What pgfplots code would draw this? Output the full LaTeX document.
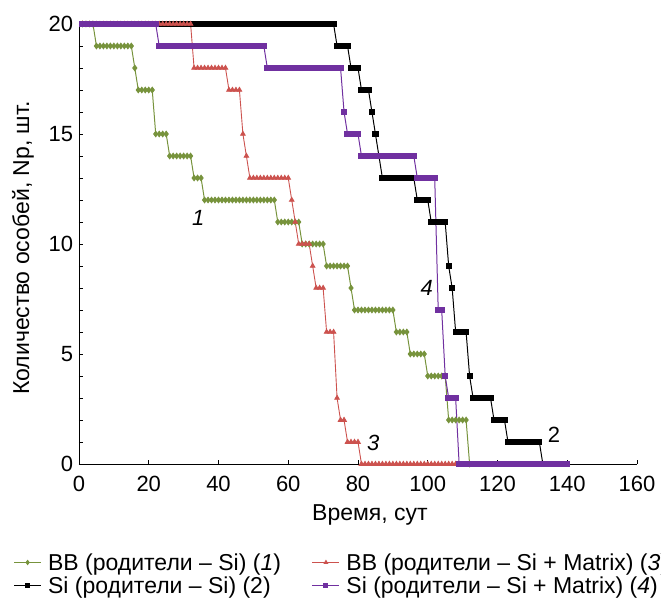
\documentclass[border=0pt]{standalone}
\usepackage{fontspec}
\setmainfont{Liberation Sans}
\usepackage{pgfplots}
\pgfplotsset{compat=1.18}

\definecolor{cg}{RGB}{119,147,60}
\definecolor{cr}{RGB}{204,82,78}
\definecolor{cp}{RGB}{112,48,160}

\newcommand{\fnt}{\fontsize{22bp}{26bp}\selectfont}
\newcommand{\lfnt}{\fontsize{23bp}{27bp}\selectfont}

\begin{document}
\begin{tikzpicture}
\begin{axis}[
  scale only axis,
  width=558bp, height=440bp,
  xmin=0, xmax=160, ymin=0, ymax=20,
  axis x line*=bottom, axis y line*=left,
  axis line style={line width=0.8pt},
  xtick={0,20,...,160}, ytick={0,5,...,20},
  minor y tick num=4,
  tick align=inside,
  major tick length=4bp, minor tick length=4bp,
  tick style={black, line width=0.8pt},
  tick label style={font=\fnt},
  xticklabel style={anchor=base, yshift=-27.7bp},
  yticklabel style={xshift=-2.4bp},
  /pgf/number format/assume math mode=true,
  xlabel={Время, сут},
  ylabel={Количество особей, Np, шт.},
  every axis x label/.style={at={(axis description cs:0.5215,-0.1295)}, anchor=base, font=\lfnt},
  every axis y label/.style={at={(axis description cs:-0.1004,0.491)}, rotate=90, anchor=center, font=\lfnt},
  clip=false,
  legend columns=2, transpose legend,
  legend style={at={(axis description cs:-0.1175,-0.2027)}, anchor=north west,
    draw=none, fill=none, font=\lfnt, inner sep=0pt, row sep=5bp,
    nodes={inner sep=0pt},
    /tikz/every odd column/.append style={column sep=6.5bp},
    /tikz/every even column/.append style={column sep=31bp}},
  legend cell align=left,
  legend image code/.code={\draw[mark repeat=2,mark phase=2,#1] plot coordinates {(0bp,0bp) (13.5bp,0bp) (27bp,0bp)};},
  legend image post style={mark size=2bp},
]
% (1) BB (parents - Si)
\addplot[cg, line width=1pt, mark=diamond*, mark size=2.7bp, mark options={fill=cg, draw=cg}] coordinates {
(1,20) (2,20) (3,20) (4,20)
(5,19) (6,19) (7,19) (8,19) (9,19) (10,19) (11,19) (12,19) (13,19) (14,19) (15,19)
(16,18)
(17,17) (18,17) (19,17) (20,17) (21,17)
(22,15) (23,15) (24,15) (25,15)
(26,14) (27,14) (28,14) (29,14) (30,14) (31,14) (32,14)
(33,13) (34,13) (35,13)
(36,12) (37,12) (38,12) (39,12) (40,12) (41,12) (42,12) (43,12) (44,12) (45,12) (46,12)
(47,12) (48,12) (49,12) (50,12) (51,12) (52,12) (53,12) (54,12) (55,12) (56,12)
(57,11) (58,11) (59,11) (60,11) (61,11) (62,11) (63,11)
(64,10) (65,10) (66,10) (67,10) (68,10) (69,10) (70,10)
(71,9) (72,9) (73,9) (74,9) (75,9) (76,9) (77,9)
(78,8)
(79,7) (80,7) (81,7) (82,7) (83,7) (84,7) (85,7) (86,7) (87,7) (88,7) (89,7) (90,7)
(91,6) (92,6) (93,6) (94,6)
(95,5) (96,5) (97,5) (98,5) (99,5)
(100,4) (101,4) (102,4) (103,4) (104,4) (105,4)
(106,2) (107,2) (108,2) (109,2) (110,2) (111,2)
(112,0)
};
\addlegendentry{BB (родители – Si) (\textit{1})}
% (2) Si (parents - Si)
\addplot[black, line width=1pt, mark=square*, mark size=2.6bp, mark options={fill=black}] coordinates {
(1,20) (2,20) (3,20) (4,20) (5,20) (6,20) (7,20) (8,20) (9,20) (10,20)
(11,20) (12,20) (13,20) (14,20) (15,20) (16,20) (17,20) (18,20) (19,20) (20,20)
(21,20) (22,20) (23,20) (24,20) (25,20) (26,20) (27,20) (28,20) (29,20) (30,20)
(31,20) (32,20) (33,20) (34,20) (35,20) (36,20) (37,20) (38,20) (39,20) (40,20)
(41,20) (42,20) (43,20) (44,20) (45,20) (46,20) (47,20) (48,20) (49,20) (50,20)
(51,20) (52,20) (53,20) (54,20) (55,20) (56,20) (57,20) (58,20) (59,20) (60,20)
(61,20) (62,20) (63,20) (64,20) (65,20) (66,20) (67,20) (68,20) (69,20) (70,20)
(71,20) (72,20) (73,20)
(74,19) (75,19) (76,19) (77,19)
(78,18) (79,18) (80,18)
(81,17) (82,17) (83,17)
(84,16) (85,15) (86,14)
(87,13) (88,13) (89,13) (90,13) (91,13) (92,13) (93,13) (94,13) (95,13) (96,13)
(97,12) (98,12) (99,12) (100,12)
(101,11) (102,11) (103,11) (104,11) (105,11)
(106,9) (107,8)
(108,6) (109,6) (110,6) (111,6)
(112,4)
(113,3) (114,3) (115,3) (116,3) (117,3) (118,3)
(119,2) (120,2) (121,2) (122,2)
(123,1) (124,1) (125,1) (126,1) (127,1) (128,1) (129,1) (130,1) (131,1) (132,1)
(133,0) (134,0) (135,0) (136,0) (137,0) (138,0) (139,0) (140,0)
};
\addlegendentry{Si (родители – Si) (2)}
% (3) BB (parents - Si + Matrix)
\addplot[cr, line width=0.9pt, mark=triangle*, mark size=2.6bp, mark options={fill=cr, draw=cr}] coordinates {
(1,20) (2,20) (3,20) (4,20) (5,20) (6,20) (7,20) (8,20) (9,20) (10,20)
(11,20) (12,20) (13,20) (14,20) (15,20) (16,20) (17,20) (18,20) (19,20) (20,20)
(21,20) (22,20) (23,20) (24,20) (25,20) (26,20) (27,20) (28,20) (29,20) (30,20)
(31,20) (32,20)
(33,18) (34,18) (35,18) (36,18) (37,18) (38,18) (39,18) (40,18) (41,18) (42,18)
(43,17) (44,17) (45,17) (46,17)
(47,15) (48,14)
(49,13) (50,13) (51,13) (52,13) (53,13) (54,13) (55,13) (56,13) (57,13) (58,13) (59,13) (60,13)
(61,12) (62,11)
(63,10) (64,10) (65,10) (66,10)
(67,9)
(68,8) (69,8) (70,8)
(71,6) (72,6) (73,6)
(74,3)
(75,2) (76,2)
(77,1) (78,1) (79,1) (80,1)
(81,0) (82,0) (83,0) (84,0) (85,0) (86,0) (87,0) (88,0) (89,0) (90,0)
(91,0) (92,0) (93,0) (94,0) (95,0) (96,0) (97,0) (98,0) (99,0) (100,0)
(101,0) (102,0) (103,0) (104,0) (105,0) (106,0) (107,0) (108,0)
};
\addlegendentry{BB (родители – Si + Matrix) (\textit{3})}
% (4) Si (parents - Si + Matrix)
\addplot[cp, line width=1pt, mark=square*, mark size=2.7bp, mark options={fill=cp, draw=cp}] coordinates {
(1,20) (2,20) (3,20) (4,20) (5,20) (6,20) (7,20) (8,20) (9,20) (10,20)
(11,20) (12,20) (13,20) (14,20) (15,20) (16,20) (17,20) (18,20) (19,20) (20,20)
(21,20) (22,20)
(23,19) (24,19) (25,19) (26,19) (27,19) (28,19) (29,19) (30,19) (31,19) (32,19)
(33,19) (34,19) (35,19) (36,19) (37,19) (38,19) (39,19) (40,19) (41,19) (42,19)
(43,19) (44,19) (45,19) (46,19) (47,19) (48,19) (49,19) (50,19) (51,19) (52,19)
(53,19)
(54,18) (55,18) (56,18) (57,18) (58,18) (59,18) (60,18) (61,18) (62,18) (63,18)
(64,18) (65,18) (66,18) (67,18) (68,18) (69,18) (70,18) (71,18) (72,18) (73,18)
(74,18) (75,18)
(76,16)
(77,15) (78,15) (79,15) (80,15)
(81,14) (82,14) (83,14) (84,14) (85,14) (86,14) (87,14) (88,14) (89,14) (90,14)
(91,14) (92,14) (93,14) (94,14) (95,14) (96,14)
(97,13) (98,13) (99,13) (100,13) (101,13) (102,13)
(103,7) (104,7)
(105,4)
(106,3) (107,3) (108,3)
(109,0) (110,0) (111,0) (112,0) (113,0) (114,0) (115,0) (116,0) (117,0) (118,0) (119,0)
(120,0) (121,0) (122,0) (123,0) (124,0) (125,0) (126,0) (127,0) (128,0) (129,0)
(130,0) (131,0) (132,0) (133,0) (134,0) (135,0) (136,0) (137,0) (138,0) (139,0) (140,0)
};
\addlegendentry{Si (родители – Si + Matrix) (\textit{4})}

\node[font=\fnt\itshape] at (axis cs:34.2,11.2) {1};
\node[font=\fnt] at (axis cs:136.2,1.32) {2};
\node[font=\fnt\itshape] at (axis cs:84.4,0.94) {3};
\node[font=\fnt\itshape] at (axis cs:99.7,8.0) {4};
\end{axis}
\pgfresetboundingbox
\path[use as bounding box] (-79bp,-140bp) rectangle (582bp,464bp);
\end{tikzpicture}
\end{document}
